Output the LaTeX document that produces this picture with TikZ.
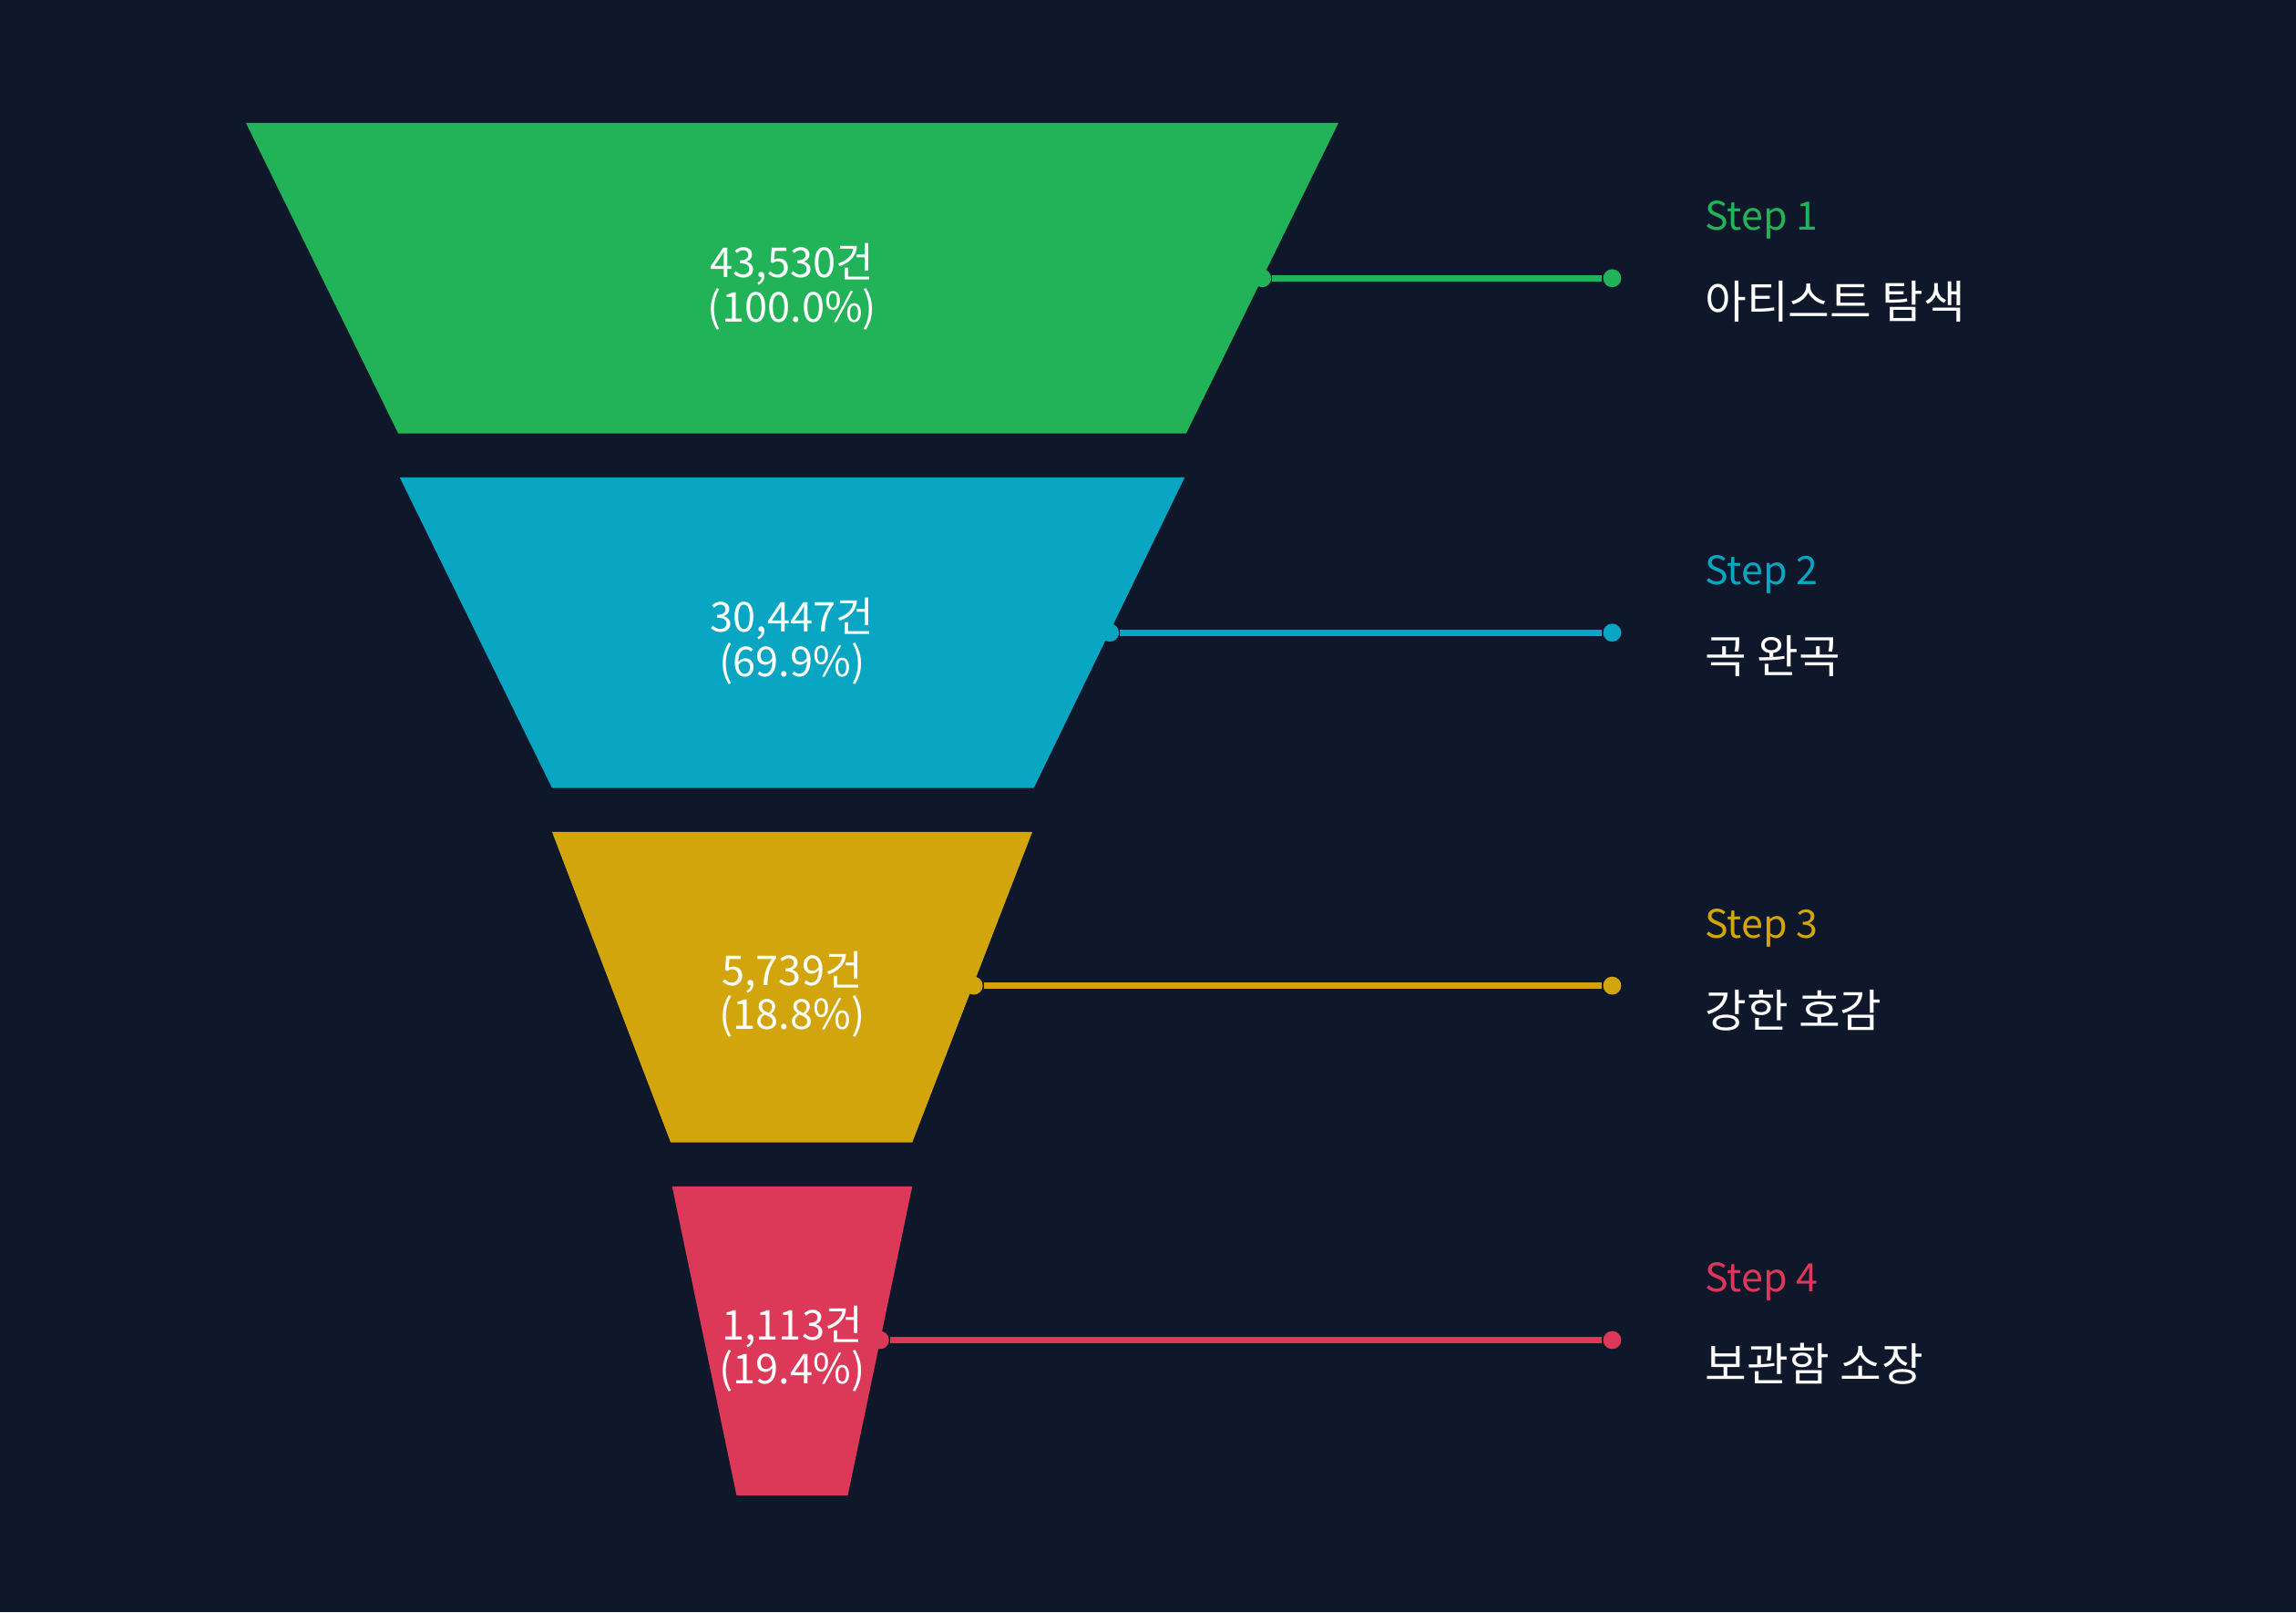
\documentclass[tikz,border=0pt]{standalone}
\usepackage{fontspec}
\setmainfont{Noto Sans CJK KR}
\definecolor{bg}{RGB}{15,23,42}
\definecolor{stepgreen}{RGB}{34,179,89}
\definecolor{stepteal}{RGB}{8,166,194}
\definecolor{stepyellow}{RGB}{211,165,13}
\definecolor{stepred}{RGB}{220,57,88}
\tikzset{
  val/.style={text=white,font=\fontsize{8}{8.6}\selectfont,align=center},
  steplabel/.style={anchor=west,font=\fontsize{7.6}{9}\selectfont},
  stepname/.style={anchor=west,text=white,font=\fontsize{8.8}{10}\selectfont},
  leader/.style={line width=1.3pt},
  dot/.style={circle,inner sep=0pt,minimum size=3.5pt,fill=#1}
}
\begin{document}
\begin{tikzpicture}
\fill [bg] (0,0) rectangle (15.68,11.01);
\useasboundingbox (0,0) rectangle (15.68,11.01);

% funnel stages
\fill [stepgreen]  (1.68,10.17) -- (9.14,10.17) -- (8.10,8.05) -- (2.72,8.05) -- cycle;
\fill [stepteal]   (2.73,7.75) -- (8.09,7.75) -- (7.06,5.63) -- (3.77,5.63) -- cycle;
\fill [stepyellow] (3.77,5.33) -- (7.05,5.33) -- (6.23,3.21) -- (4.58,3.21) -- cycle;
\fill [stepred]    (4.59,2.91) -- (6.23,2.91) -- (5.79,0.80) -- (5.03,0.80) -- cycle;

% values
\node [val] (v1) at (5.41,9.05) {43,530건\\(100.0\%)};
\node [val] (v2) at (5.41,6.63) {30,447건\\(69.9\%)};
\node [val] (v3) at (5.41,4.22) {5,739건\\(18.8\%)};
\node [val] (v4) at (5.41,1.80) {1,113건\\(19.4\%)};

% leader lines
\node [dot=stepgreen]  (a1) at (8.62,9.11) {};
\node [dot=stepgreen]  (b1) at (11.01,9.11) {};
\node [dot=stepteal]   (a2) at (7.58,6.69) {};
\node [dot=stepteal]   (b2) at (11.01,6.69) {};
\node [dot=stepyellow] (a3) at (6.65,4.28) {};
\node [dot=stepyellow] (b3) at (11.01,4.28) {};
\node [dot=stepred]    (a4) at (6.01,1.86) {};
\node [dot=stepred]    (b4) at (11.01,1.86) {};
\draw [leader,stepgreen]  (a1) -- (b1);
\draw [leader,stepteal]   (a2) -- (b2);
\draw [leader,stepyellow] (a3) -- (b3);
\draw [leader,stepred]    (a4) -- (b4);

% step labels
\node [steplabel,text=stepgreen]  (s1) at (11.52,9.51) {Step 1};
\node [stepname] (n1) at (11.52,8.95) {아티스트 탐색};
\node [steplabel,text=stepteal]   (s2) at (11.52,7.09) {Step 2};
\node [stepname] (n2) at (11.52,6.53) {곡 완곡};
\node [steplabel,text=stepyellow] (s3) at (11.52,4.67) {Step 3};
\node [stepname] (n3) at (11.52,4.11) {강한 호감};
\node [steplabel,text=stepred]    (s4) at (11.52,2.26) {Step 4};
\node [stepname] (n4) at (11.52,1.70) {보관함 소장};
\end{tikzpicture}
\end{document}
